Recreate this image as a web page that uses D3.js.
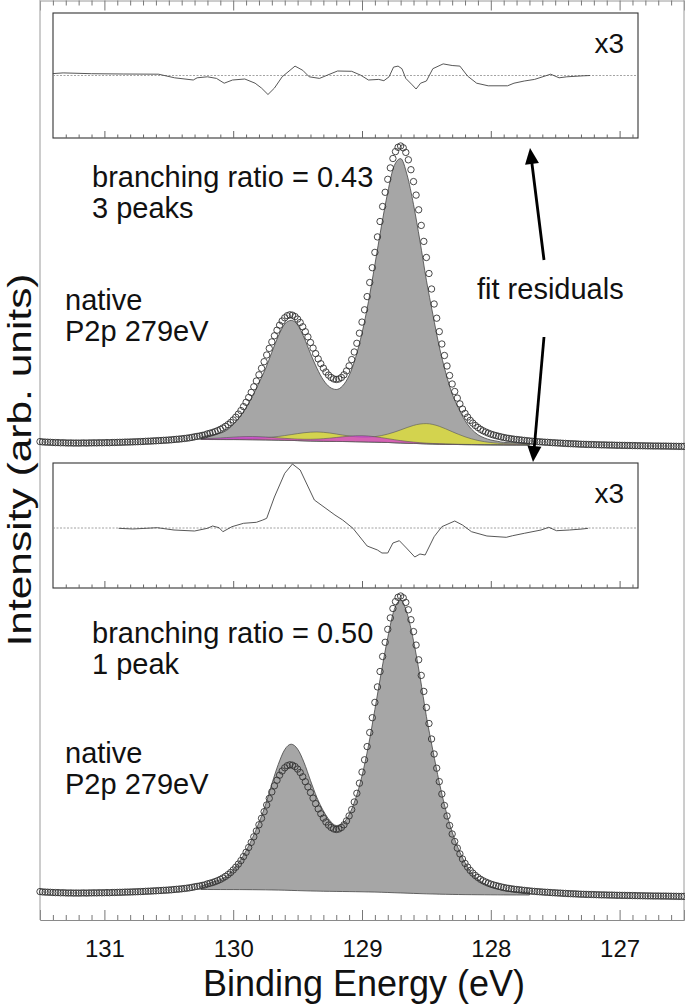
<!DOCTYPE html>
<html><head><meta charset="utf-8">
<script src="https://cdn.jsdelivr.net/npm/d3@7"></script>
<style>
body{margin:0;background:#fff}
svg{display:block}
text{font-family:"Liberation Sans",Arial,Helvetica,sans-serif;fill:#111}
</style>
</head><body>
<svg id="c" width="685" height="1005"></svg>
<script>
// ---------- data ----------
// measured P2p spectrum, binding energy 131.50 -> 126.50 eV, step 0.02 eV
const dataStartE = 131.50, dataStepE = 0.02;
const measured = [
8.4,8.1,7.9,7.8,7.7,7.5,7.4,7.4,7.2,7.3,
7.1,7.0,7.1,6.9,7.0,6.9,7.0,7.1,6.9,7.1,
7.1,7.2,7.1,7.3,7.2,7.3,7.4,7.3,7.5,7.5,
7.6,7.7,7.7,7.9,7.9,8.0,8.1,8.2,8.3,8.4,
8.5,8.7,8.8,8.9,9.1,9.2,9.4,9.5,9.7,9.8,
10.0,10.2,10.5,10.7,10.9,11.2,11.5,11.8,12.2,12.6,
13.2,13.6,14.0,14.6,15.1,16.1,16.8,17.5,18.4,19.4,
20.6,22.0,23.6,25.4,27.5,30.0,32.8,35.9,39.4,43.4,
47.7,52.5,57.6,63.2,69.0,75.2,81.7,88.3,95.0,101.6,
108.1,114.2,119.8,124.8,129.0,132.2,134.3,135.2,134.8,133.4,
130.9,127.5,123.2,118.3,113.1,107.5,101.9,96.4,91.1,86.3,
81.9,78.0,74.9,72.6,71.1,70.5,71.0,72.5,75.2,79.1,
84.1,90.4,98.0,106.7,116.8,127.9,140.2,153.4,167.5,182.3,
197.6,213.1,228.5,243.5,257.7,270.7,282.1,291.5,298.4,302.7,
304.0,302.2,297.6,290.2,280.3,268.4,254.9,240.2,224.6,208.6,
192.5,176.5,161.0,146.0,131.8,118.4,106.0,94.5,84.0,74.5,
66.0,58.5,51.9,46.1,41.0,36.6,32.9,29.6,26.9,24.5,
22.5,20.7,19.2,18.0,16.9,15.9,15.1,14.4,13.7,13.1,
12.5,12.0,11.6,11.2,10.8,10.5,10.2,9.9,9.6,9.3,
9.1,8.8,8.6,8.4,8.2,8.0,7.8,7.7,7.5,7.3,
7.2,7.0,6.9,6.7,6.6,6.4,6.3,6.2,6.1,5.9,
5.8,5.7,5.6,5.5,5.5,5.4,5.3,5.2,5.1,5.1,
5.0,4.9,4.9,4.8,4.7,4.7,4.6,4.6,4.5,4.5,
4.4,4.4,4.3,4.3,4.2,4.2,4.1,4.1,4.0,4.0,
4.0,3.9,3.9,3.9,3.8,3.8,3.7,3.7,3.6,3.6,3.6
];

// fit curves, binding energy 130.25 -> 127.70 eV, step 0.05 eV
const fitStartE = 130.25, fitStepE = 0.05;
const shirleyBg = [
10.5,10.5,10.48,10.46,10.45,10.45,10.41,
10.36,10.31,10.25,10.17,10.06,9.92,9.79,9.59,9.4,9.21,
9.02,8.88,8.74,8.66,8.58,8.49,8.41,8.3,8.19,8.05,
7.92,7.72,7.53,7.28,7.04,6.82,6.6,6.38,6.16,5.99,
5.83,5.69,5.58,5.48,5.39,5.32,5.26,5.21,5.17,5.13,
5.09,5.06,5.04,5.02,5.0
];
// lower panel: one doublet, branching ratio 0.50
const fitOnePeak = [
13.7,16.0,18.4,20.4,24.2,30.5,38.8,
49.3,62.2,77.4,94.8,116.1,135.6,150.4,155.8,150.9,137.5,
119.5,102.5,89.2,79.5,74.5,76.6,85.4,101.2,124.2,154.3,
190.6,227.8,262.4,290.3,299.7,286.8,259.2,223.7,183.5,149.8,
117.7,90.1,68.0,50.8,37.4,27.3,20.8,16.2,13.2,11.2,
9.4,8.6,8.2,7.9,7.6
];
// upper panel: main doublet of the 3-peak fit, branching ratio 0.43
const fitMainThreePeak = [
12.5,14.4,15.4,16.8,19.7,25.5,32.8,
42.4,53.9,67.1,81.0,97.8,113.8,126.0,129.6,125.2,112.5,
96.5,81.8,70.0,62.8,60.5,64.2,74.5,92.3,117.0,148.3,
185.4,223.2,257.8,284.3,291.4,275.1,245.5,209.0,169.8,135.7,
103.4,77.3,56.2,41.8,29.4,21.0,15.3,12.1,10.0,8.8,
7.6,7.3,7.1,6.9,6.8
];
// minor doublets (height above background)
const compYellow = [
.36,.39,.43,.48,.55,.63,.75,
.93,1.18,1.55,2.06,2.75,3.61,4.64,5.80,6.98,8.05,
8.82,9.16,8.95,8.33,7.42,6.44,5.58,4.95,4.67,4.82,
5.47,6.67,8.37,10.55,13.04,15.64,17.98,19.62,20.24,19.57,
17.86,15.45,12.76,10.15,7.80,5.85,4.29,3.14,2.32,1.76,
1.37,1.11,.93,.81,.70
];
const compMagenta = [
.71,.95,1.25,1.60,2.00,2.41,2.79,
3.05,3.17,3.09,2.87,2.55,2.20,1.88,1.65,1.52,1.54,
1.71,2.04,2.55,3.19,3.93,4.71,5.41,5.91,6.08,5.89,
5.37,4.64,3.84,3.05,2.35,1.76,1.30,.96,.70,.54,
.42,.35,.30,.26,.22,.20,.18,.16,.14,.13,
.12,.11,.10,.09,.08
];

// fit residuals (x3)
const residTopE = [131.40,131.32,131.10,130.85,130.58,130.455,130.31,130.28,130.20,130.13,130.07,130.005,129.91,129.83,129.78,129.73,129.68,129.62,129.52,129.46,129.41,129.33,129.27,129.19,129.08,129.01,128.95,128.87,128.83,128.79,128.755,128.72,128.69,128.66,128.61,128.58,128.545,128.50,128.45,128.37,128.30,128.24,128.18,128.11,128.02,127.87,127.82,127.74,127.66,127.535,127.47,127.41,127.28,127.23];
const residTopV = [1.9,2.6,1.8,1.5,1.3,-2.3,-4.5,-2.3,-1.3,-2.9,-7.7,-4.5,-3.5,-7.7,-12.6,-19,-12.6,-1.3,9.4,5.2,-1.3,-2.9,0.3,4.5,4.2,0.3,-4.5,-3.9,-5.2,-1.3,8.4,9.4,6.8,-2.9,-9.4,-13.5,-7.7,-5.5,6.8,11.6,10,9.4,-0.6,-7.7,-10.3,-10.3,-7.7,-5.5,-3.9,1.3,-2.3,-1.3,-0.3,0];
const residBotE = [130.89,130.78,130.59,130.46,130.30,130.20,130.16,130.11,130.08,130.01,129.92,129.82,129.77,129.74,129.68,129.60,129.54,129.48,129.37,129.21,129.15,129.07,128.96,128.88,128.845,128.80,128.76,128.71,128.655,128.59,128.55,128.51,128.44,128.38,128.28,128.22,128.15,128.03,127.88,127.83,127.74,127.61,127.55,127.49,127.39,127.29,127.245];
const residBotV = [-0.3,-1,0.3,-2,-3,-0.3,2,0.3,-3.7,1.3,4.7,5.7,8,9.7,31,54.7,64,58,28,13,8,-0.3,-18,-22,-25,-25,-15,-12.7,-20,-29,-26,-27,-8.7,1.3,7,3,-3.7,-8,-9.3,-7.7,-5.3,-2,0.7,-2.7,-2,-1,-0.3];

const xMajorTicks = [131,130,129,128,127];
const xTitle = "Binding Energy (eV)";
const yTitle = "Intensity (arb. units)";
const topLabels = ["branching ratio = 0.43","3 peaks"];
const botLabels = ["branching ratio = 0.50","1 peak"];
const sampleLabels = ["native","P2p 279eV"];
const residLabel = "x3";
const arrowLabel = "fit residuals";

// ---------- drawing ----------
const svg = d3.select('#c');
const x = d3.scaleLinear().domain([131.5,126.5]).range([40,684]);
const yBot = d3.scaleLinear().domain([0,450]).range([900,450]);
const yTop = d3.scaleLinear().domain([0,450]).range([450,0]);
const rTop = d3.scaleLinear().domain([-62.5,62.5]).range([138,13]);
const rBot = d3.scaleLinear().domain([-60,65]).range([588,463]);

const dataE = measured.map((_,i)=>+(dataStartE - i*dataStepE).toFixed(2));
const fitE = shirleyBg.map((_,i)=>+(fitStartE - i*fitStepE).toFixed(2));
const minorTicks = d3.range(1314,1265,-1).map(v=>v/10).filter(v=>Math.abs(v-Math.round(v))>1e-6);

// outer frame
const frame = svg.append('g');
frame.append('line').attr('x1',40).attr('x2',40).attr('y1',0).attr('y2',920).attr('stroke','#9a9a9a').attr('stroke-width',1);
frame.append('line').attr('x1',684).attr('x2',684).attr('y1',0).attr('y2',920).attr('stroke','#9a9a9a').attr('stroke-width',1);

const axB = svg.append('g').attr('transform','translate(0,920)')
  .call(d3.axisBottom(x).tickValues(xMajorTicks).tickSize(-10).tickPadding(20).tickFormat(d3.format('d')));
axB.select('.domain').attr('stroke','#8a8a8a');
axB.selectAll('.tick line').attr('stroke','#777');
axB.selectAll('.tick text').attr('font-size',24).attr('fill','#222').style('font-family','"Liberation Sans",Arial,sans-serif');
const axBm = svg.append('g').attr('transform','translate(0,920)')
  .call(d3.axisBottom(x).tickValues(minorTicks).tickSize(-5).tickFormat(''));
axBm.select('.domain').remove();
axBm.selectAll('.tick line').attr('stroke','#777');

const axT = svg.append('g').attr('transform','translate(0,0.5)')
  .call(d3.axisTop(x).tickValues(xMajorTicks).tickSize(-10).tickFormat(''));
axT.select('.domain').attr('stroke','#9a9a9a');
axT.selectAll('.tick line').attr('stroke','#777');
const axTm = svg.append('g').attr('transform','translate(0,0.5)')
  .call(d3.axisTop(x).tickValues(minorTicks).tickSize(-5).tickFormat(''));
axTm.select('.domain').remove();
axTm.selectAll('.tick line').attr('stroke','#777');

// fits
const fitRows = fitE.map((e,i)=>({e, bg:shirleyBg[i], one:fitOnePeak[i], main:fitMainThreePeak[i], yel:compYellow[i], mag:compMagenta[i]}));
const curve = d3.curveMonotoneX;

function grayArea(ys, key){
  return d3.area().curve(curve).x(d=>x(d.e)).y0(d=>ys(d.bg)).y1(d=>ys(d[key]));
}
// upper panel
svg.append('path').datum(fitRows).attr('d',grayArea(yTop,'main'))
  .attr('fill','#a6a6a6').attr('stroke','#444').attr('stroke-width',0.8);
svg.append('path').datum(fitRows)
  .attr('d',d3.area().curve(curve).x(d=>x(d.e)).y0(d=>yTop(d.bg)).y1(d=>yTop(d.bg+d.yel)))
  .attr('fill','#d3d34e').attr('stroke','#555').attr('stroke-width',0.6);
svg.append('path').datum(fitRows)
  .attr('d',d3.area().curve(curve).x(d=>x(d.e)).y0(d=>yTop(d.bg)).y1(d=>yTop(d.bg+d.mag)))
  .attr('fill','#d63cd6').attr('fill-opacity',0.75).attr('stroke','#555').attr('stroke-width',0.6);
// lower panel
svg.append('path').datum(fitRows).attr('d',grayArea(yBot,'one'))
  .attr('fill','#a6a6a6').attr('stroke','#444').attr('stroke-width',0.8);

// measured points (same spectrum in both panels)
const pts = dataE.map((e,i)=>({e, v:measured[i]}));
[yTop,yBot].forEach(ys=>{
  svg.append('g').selectAll('circle').data(pts).join('circle')
    .attr('cx',d=>x(d.e)).attr('cy',d=>ys(d.v)).attr('r',3.2)
    .attr('fill','none').attr('stroke','#333').attr('stroke-width',0.9);
});

// residual insets
function inset(rs, E, V, y0, y1){
  const g = svg.append('g');
  g.append('rect').attr('x',53).attr('y',y0).attr('width',585).attr('height',y1-y0)
    .attr('fill','#fff').attr('stroke','#333').attr('stroke-width',1.1);
  g.append('line').attr('x1',53).attr('x2',638).attr('y1',rs(0)).attr('y2',rs(0))
    .attr('stroke','#8c8c8c').attr('stroke-width',0.8).attr('stroke-dasharray','2,1.5');
  const a1 = g.append('g').attr('transform',`translate(0,${y1})`)
    .call(d3.axisBottom(x).tickValues(xMajorTicks).tickSize(-7).tickFormat(''));
  a1.select('.domain').remove(); a1.selectAll('.tick line').attr('stroke','#666');
  const a2 = g.append('g').attr('transform',`translate(0,${y1})`)
    .call(d3.axisBottom(x).tickValues(minorTicks.filter(v=>x(v)>55&&x(v)<636)).tickSize(-3.5).tickFormat(''));
  a2.select('.domain').remove(); a2.selectAll('.tick line').attr('stroke','#666');
  const rows = E.map((e,i)=>({e, v:V[i]}));
  g.append('path').datum(rows)
    .attr('d',d3.line().x(d=>x(d.e)).y(d=>rs(d.v)))
    .attr('fill','none').attr('stroke','#444').attr('stroke-width',0.9);
  g.append('text').attr('x',624).attr('y',y0+40).attr('text-anchor','end').attr('font-size',28).text(residLabel);
}
inset(rTop, residTopE, residTopV, 13, 138);
inset(rBot, residBotE, residBotV, 463, 588);

// labels
function lines(arr, x0, y0, dy){
  arr.forEach((t,i)=>svg.append('text').attr('x',x0).attr('y',y0+i*dy).attr('font-size',29).text(t));
}
lines(topLabels, 92, 187, 31);
lines(sampleLabels, 65, 310, 31);
lines(botLabels, 92, 643, 31);
lines(sampleLabels, 65, 763, 31);
svg.append('text').attr('x',477).attr('y',299).attr('font-size',29).text(arrowLabel);

// arrows
function arrow(x1,y1,x2,y2){
  const dx=x2-x1, dy=y2-y1, L=Math.hypot(dx,dy), ux=dx/L, uy=dy/L;
  const hl=16, hw=7;
  const bx=x2-ux*hl, by=y2-uy*hl;
  svg.append('line').attr('x1',x1).attr('y1',y1).attr('x2',bx+ux*2).attr('y2',by+uy*2)
    .attr('stroke','#000').attr('stroke-width',2.8);
  svg.append('path').attr('d',`M${x2},${y2}L${bx-uy*hw},${by+ux*hw}L${bx+uy*hw},${by-ux*hw}Z`).attr('fill','#000');
}
arrow(544,260,530,148);
arrow(544,337,533,462);

// axis titles
svg.append('text').attr('x',364).attr('y',996).attr('text-anchor','middle').attr('font-size',36).text(xTitle);
svg.append('text').attr('transform','translate(31,460) scale(1,1.25) rotate(-90)').attr('text-anchor','middle').attr('font-size',34).text(yTitle);
</script>
</body></html>
